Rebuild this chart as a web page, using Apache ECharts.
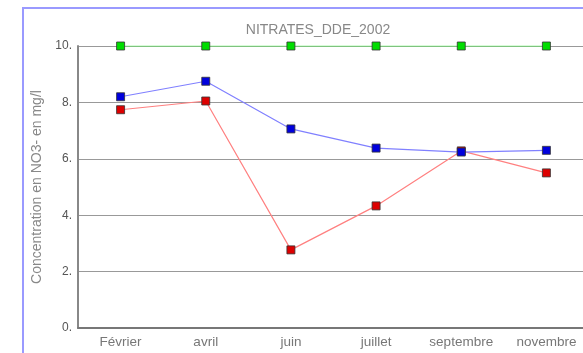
<!DOCTYPE html>
<html>
<head>
<meta charset="utf-8">
<script src="https://cdn.jsdelivr.net/npm/echarts@6/dist/echarts.min.js"></script>
<style>
  html, body { margin: 0; padding: 0; background: #fff; overflow: hidden; }
  #chart { width: 600px; height: 353px; }
</style>
</head>
<body>
<div id="chart"></div>
<script>
// Nitrate concentrations by sampling month
const months = ['Février', 'avril', 'juin', 'juillet', 'septembre', 'novembre'];
const seriesBlue = [8.2, 8.75, 7.06, 6.38, 6.24, 6.3];
const seriesRed = [7.74, 8.05, 2.77, 4.33, 6.28, 5.5];
const seriesLimit = [10, 10, 10, 10, 10, 10];
const yTicks = [0, 2, 4, 6, 8, 10];

const chart = echarts.init(document.getElementById('chart'), null, { renderer: 'canvas' });

function lineSeries(name, data, lineColor, markColor) {
  return {
    name: name,
    type: 'line',
    data: data,
    symbol: 'rect',
    symbolSize: 8,
    lineStyle: { color: lineColor, width: 1.2 },
    itemStyle: { color: markColor, borderColor: '#333', borderWidth: 0.8 },
    emphasis: { disabled: true },
    z: 3
  };
}

chart.setOption({
  animation: false,
  backgroundColor: '#fff',
  title: {
    text: 'NITRATES_DDE_2002',
    left: 313, top: 18,
    textAlign: 'center',
    textStyle: { fontFamily: 'Liberation Sans', fontSize: 14, fontWeight: 'normal', color: '#888' }
  },
  graphic: [{
    type: 'polyline',
    shape: { points: [[23, 353], [23, 8], [600, 8]] },
    style: { stroke: '#9a9aff', lineWidth: 2, fill: null },
    silent: true
  }],
  grid: { left: 78, top: 46, width: 511, bottom: 25 },
  xAxis: {
    type: 'category',
    data: months,
    boundaryGap: true,
    axisLine: { lineStyle: { color: '#777', width: 2 } },
    axisTick: { show: false },
    axisLabel: { interval: 0, fontFamily: 'Liberation Sans', fontSize: 13.5, color: '#777', margin: 7 }
  },
  yAxis: {
    type: 'value',
    min: yTicks[0], max: yTicks[yTicks.length - 1], interval: 2,
    name: 'Concentration en NO3- en mg/l',
    nameLocation: 'middle',
    nameGap: 36,
    nameTextStyle: { fontFamily: 'Liberation Sans', fontSize: 14, color: '#888', verticalAlign: 'middle' },
    axisLine: { show: true, lineStyle: { color: '#888', width: 2 } },
    axisTick: { show: false },
    axisLabel: { fontFamily: 'Liberation Sans', fontSize: 12, color: '#555', margin: 6,
      formatter: v => v + '.' },
    splitLine: { lineStyle: { color: '#999', width: 1.2 } }
  },
  series: [
    lineSeries('limite', seriesLimit, '#66ee66', '#00dd00'),
    lineSeries('rouge', seriesRed, '#ff8080', '#dd0000'),
    lineSeries('bleu', seriesBlue, '#8080ff', '#0000dd')
  ]
});
</script>
</body>
</html>
